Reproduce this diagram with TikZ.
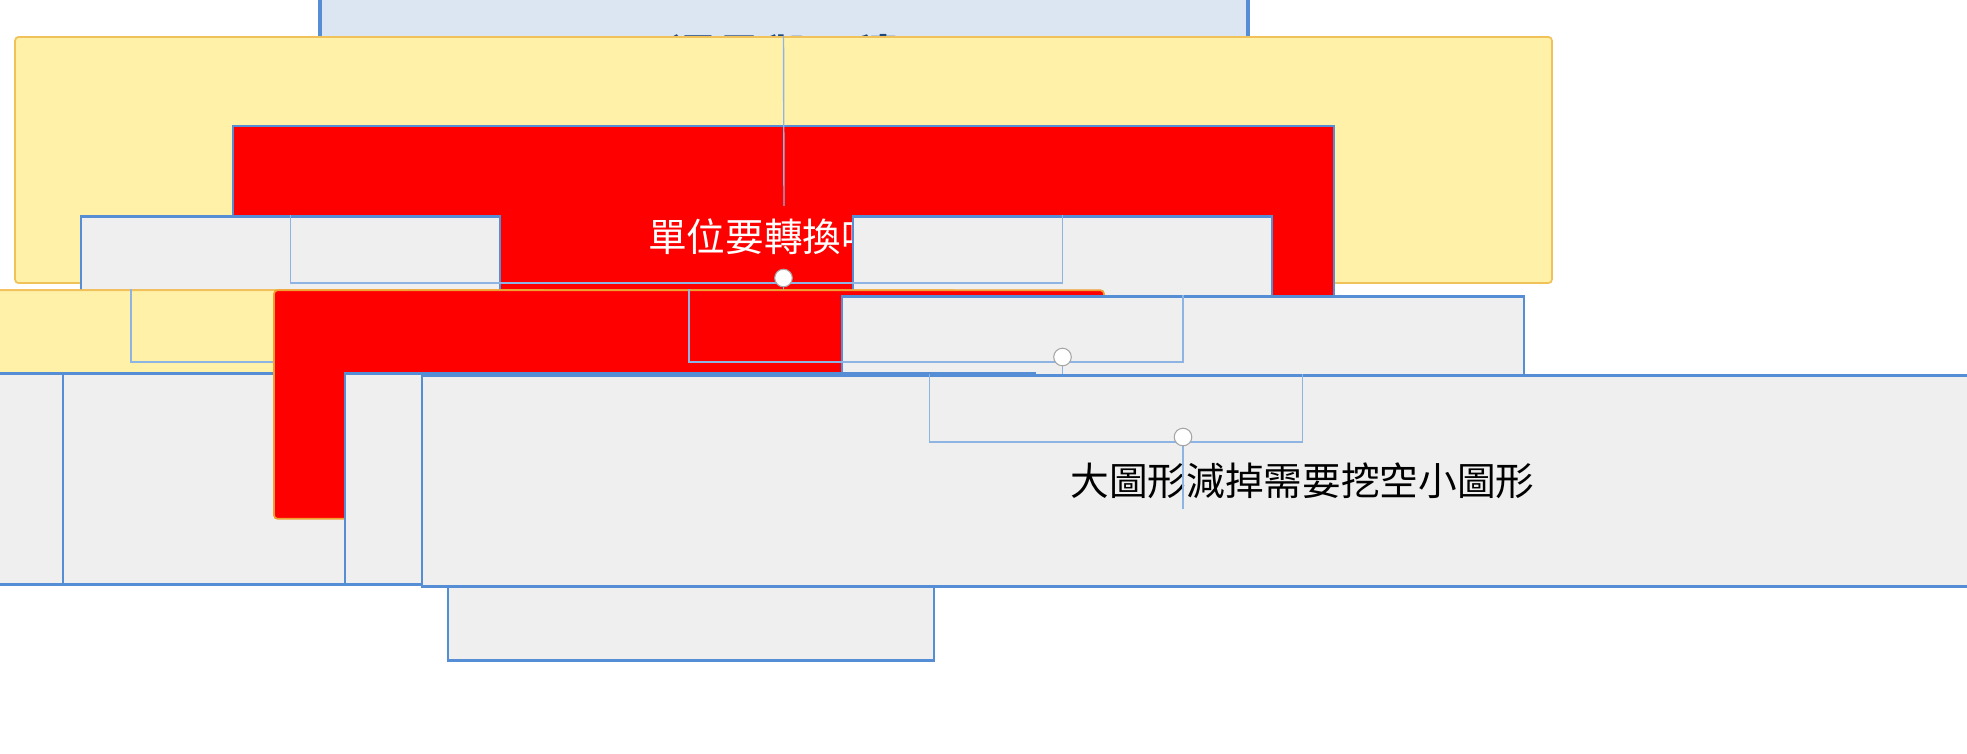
\documentclass[tikz,border=0pt]{standalone}
\usepackage{fontspec}
\newfontfamily\cjk{Noto Sans CJK TC}
\definecolor{bbord}{HTML}{558ED5}
\definecolor{boxf}{HTML}{EFEFEF}
\definecolor{titf}{HTML}{DCE6F2}
\definecolor{titt}{HTML}{1F497D}
\definecolor{yelf}{HTML}{FFF2A8}
\definecolor{yelb}{HTML}{F2C25A}
\definecolor{redb}{HTML}{F0A030}
\definecolor{linec}{HTML}{8EB4E3}
\tikzset{
 box/.style={draw=bbord,line width=0.6pt,fill=boxf,font=\cjk\fontsize{11}{13}\selectfont,inner sep=0pt},
 ycall/.style={draw=yelb,line width=0.5pt,fill=yelf,font=\cjk\fontsize{11}{13}\selectfont,inner sep=0pt,rounded corners=1pt},
 rcall/.style={draw=redb,line width=0.5pt,fill=red,text=white,font=\cjk\fontsize{11}{13}\selectfont,inner sep=0pt,rounded corners=1pt},
 conn/.style={draw=linec,line width=0.4pt},
 colmark/.style={circle,draw=gray!70,fill=white,inner sep=0pt,minimum size=5pt,line width=0.3pt},
}
\newcommand{\tail}[4]{% x, bottom y, fill, draw
 \fill[#3] (#1-6,#2-1) -- (#1+6,#2-1) -- (#1,#2+12) -- cycle;
 \draw[#4,line width=0.5pt] (#1-6,#2) -- (#1,#2+12) -- (#1+6,#2);}
\begin{document}
\begin{tikzpicture}[x=0.01cm,y=-0.01cm]
\useasboundingbox (0,0) rectangle (1967,753);
% title
\node[draw=bbord,line width=1.2pt,fill=titf,text=titt,font=\cjk\bfseries\fontsize{13}{15}\selectfont,minimum width=264,minimum height=84] (title) at (784,56) {週長與面積};
\node[ycall,minimum width=437,minimum height=70] (c1) at (783.5,160) {公分變公尺 公尺變公分};
\tail{790}{195}{yelf}{yelb}
\node[box,fill=red,text=white,minimum width=313,minimum height=63] (q) at (783.5,236.5) {單位要轉換嗎？};
\draw[conn] (title.south) -- (c1.north);
% level 1
\node[box,minimum width=119,minimum height=60] (zc) at (290.5,322) {週長};
\node[box,minimum width=119,minimum height=60] (mj) at (1062.5,322) {面積};
\draw[conn] (q.south) -- (783.5,283) -| (zc.north);
\draw[conn] (783.5,283) -| (mj.north);
\node[colmark] at (783.5,278) {};
% left branch
\node[rcall,minimum width=236,minimum height=65] (r1) at (131,404.5) {有平方嗎？};
\tail{135}{437}{red}{redb}
\node[ycall,minimum width=311,minimum height=65] (y1) at (409.5,404.5) {沿著外面繞一圈};
\tail{412}{437}{yelf}{yelb}
\draw[conn] (zc.south) -- (290.5,362) -| (r1.north);
\draw[conn] (290.5,362) -| (y1.north);
\node[colmark] at (290.5,357) {};
\node[box,minimum width=120,minimum height=60] (dw) at (132,479) {單位};
\node[box,minimum width=198,minimum height=60] (js) at (411,479) {計算方法};
% right branch
\node[rcall,minimum width=236,minimum height=65] (r2) at (689,404.5) {有平方嗎？};
\tail{690}{437}{red}{redb}
\node[box,minimum width=194,minimum height=60] (fh) at (1183,402) {複合圖形};
\draw[conn] (mj.south) -- (1062.5,362) -| (r2.north);
\draw[conn] (1062.5,362) -| (fh.north);
\node[colmark] at (1062.5,357) {};
\node[box,minimum width=196,minimum height=60] (dy) at (690,479) {單一圖形};
\node[box,minimum width=138,minimum height=60] (ck) at (691,555) {長*寬};
\draw[conn] (dy.south) -- (ck.north);
\node[colmark] at (690.5,514) {};
\node[box,minimum width=235,minimum height=60] (jq) at (929.5,481) {圖形加起來};
\node[box,minimum width=501,minimum height=60] (dt) at (1302.5,481) {大圖形減掉需要挖空小圖形};
\draw[conn] (fh.south) -- (1183,442) -| (jq.north);
\draw[conn] (1183,442) -| (dt.north);
\node[colmark] at (1183,437) {};
\end{tikzpicture}
\end{document}
